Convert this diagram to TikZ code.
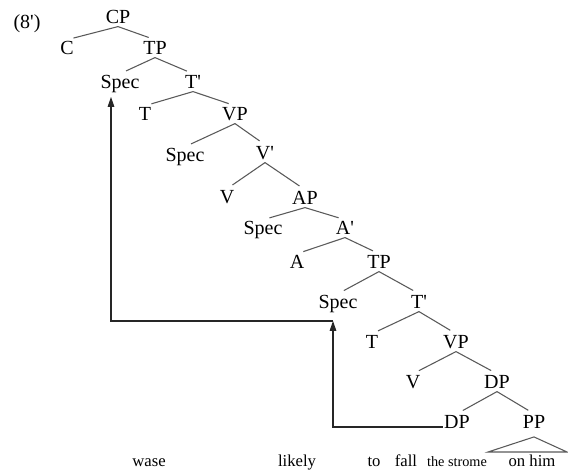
\documentclass[tikz,border=0pt]{standalone}
\usepackage{fontspec}
\setmainfont{Liberation Serif}
\usetikzlibrary{arrows.meta}

\newcommand{\pr}{\textquotesingle}

\begin{document}
\begin{tikzpicture}[
    x=0.75pt, y=-0.75pt,
    cat/.style={inner sep=1pt, font=\fontsize{15}{17}\selectfont, text height=10pt, text depth=3pt},
    word/.style={inner sep=0pt, anchor=base, font=\fontsize{12.5}{14}\selectfont},
    branch/.style={draw=black!65, line width=0.8pt, shorten >=5pt},
    move/.style={draw=black!85, line width=0.8pt, -{Triangle[length=7.5pt,width=5pt]}}
    ]
   \useasboundingbox (0,0) rectangle (568,473);
   % example number
   \node[cat] (num) at (27,24) {(8\pr)};
   % categories
   \node[cat] (cp)    at (118,19)  {CP};
   \node[cat] (c)     at (67,50)   {C};
   \node[cat] (tp)    at (155,50)  {TP};
   \node[cat] (spec1) at (120,84)  {Spec};
   \node[cat] (tbar)  at (193,84)  {T\pr};
   \node[cat] (t)     at (145,116) {T};
   \node[cat] (vp)    at (235,116) {VP};
   \node[cat] (spec2) at (185,157) {Spec};
   \node[cat] (vbar)  at (265,155) {V\pr};
   \node[cat] (v)     at (227,199) {V};
   \node[cat] (ap)    at (305,200) {AP};
   \node[cat] (spec3) at (263,230) {Spec};
   \node[cat] (abar)  at (345,230) {A\pr};
   \node[cat] (a)     at (297,264) {A};
   \node[cat] (tpb)   at (379,264) {TP};
   \node[cat] (spec4) at (338,304) {Spec};
   \node[cat] (tbarb) at (419,304) {T\pr};
   \node[cat] (tb)    at (372,344) {T};
   \node[cat] (vpb)   at (456,344) {VP};
   \node[cat] (vb)    at (413,384) {V};
   \node[cat] (dp)    at (497,384) {DP};
   \node[cat] (dpb)   at (457,424) {DP};
   \node[cat] (pp)    at (534,424) {PP};
   % words
   \node[word] (w1) at (149,467) {wase};
   \node[word] (w2) at (297,467) {likely};
   \node[word] (w3) at (374,467) {to};
   \node[word] (w4) at (406,467) {fall};
   \node[word, font=\fontsize{10.7}{12}\selectfont] (w5) at (457,467) {the strome};
   \node[word] (w6) at (532,467) {on him};
   % branches
   \foreach \p/\d in {cp/c, cp/tp, tp/spec1, tp/tbar, tbar/t, tbar/vp,
                      vp/spec2, vp/vbar, vbar/v, vbar/ap, ap/spec3, ap/abar,
                      abar/a, abar/tpb, tpb/spec4, tpb/tbarb, tbarb/tb, tbarb/vpb,
                      vpb/vb, vpb/dp, dp/dpb, dp/pp}
      \draw[branch] ([yshift=2pt]\p.south) -- (\d.north);
   % roof over PP
   \coordinate (roofL) at (488,452);
   \coordinate (roofR) at (567,452);
   \draw[draw=black!65, line width=0.8pt] ([yshift=-2pt]pp.south) -- (roofL) -- (roofR) -- cycle;
   % movement
   \coordinate (low) at (333,427);
   \coordinate (mid) at (333,321);
   \coordinate (top) at (111,321);
   \draw[move] (dpb.west |- low) -- (low) -- (mid);
   \draw[move, shorten >=2pt] (mid) -- (top) -- (top |- spec1.south);
\end{tikzpicture}
\end{document}
